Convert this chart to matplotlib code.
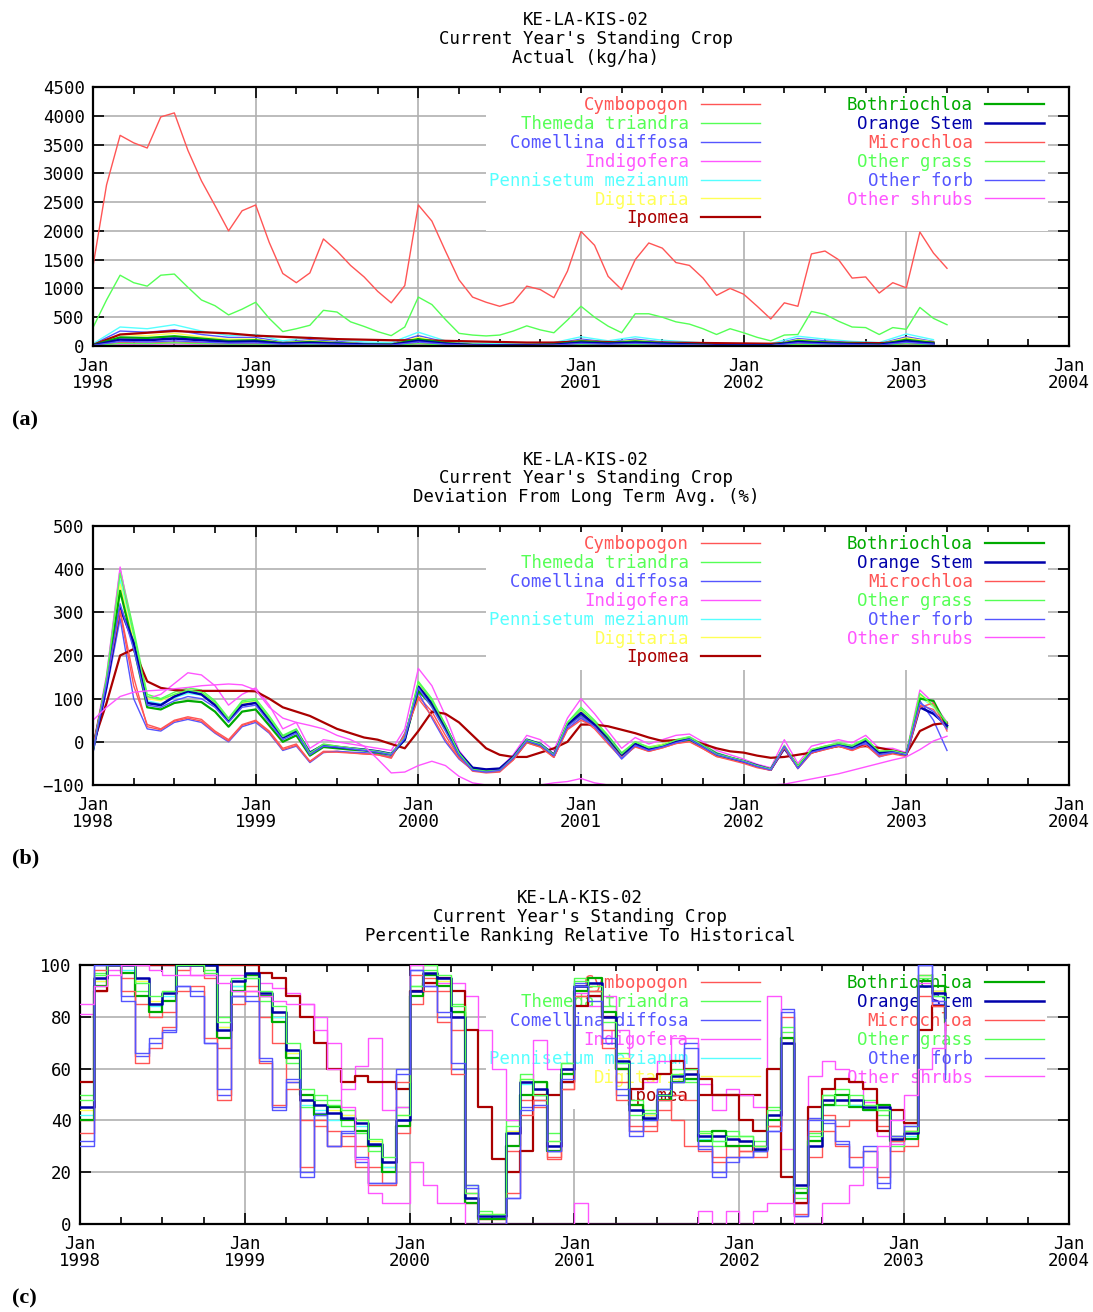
import numpy as np
import matplotlib.pyplot as plt
from matplotlib.ticker import MultipleLocator

plt.rcParams['font.family'] = ['DejaVu Sans Mono']

species = ["Cymbopogon", "Themeda triandra", "Comellina diffosa", "Indigofera",
           "Pennisetum mezianum", "Digitaria", "Ipomea",
           "Bothriochloa", "Orange Stem", "Microchloa", "Other grass",
           "Other forb", "Other shrubs"]
colors = ["#ff5555", "#55ff55", "#5555ff", "#ff55ff", "#55ffff", "#ffff55", "#aa0000",
          "#00aa00", "#0000aa", "#ff5555", "#55ff55", "#5555ff", "#ff55ff"]
widths = [1.0, 1.0, 1.0, 1.0, 1.0, 1.0, 1.6, 1.6, 1.8, 1.0, 1.0, 1.0, 1.0]

# time axis: monthly Jan 1998 .. Apr 2003, and every 2 months for the small (a) series
months = np.arange(64)
months2 = np.arange(0, 64, 2)

# -------- (a) Actual (kg/ha) --------
a_cymbopogon = [1385, 2800, 3660, 3530, 3440, 3980, 4050, 3400, 2870, 2440, 2000, 2350,
                2450, 1800, 1260, 1100, 1270, 1860, 1650, 1400, 1200, 950, 750, 1050,
                2450, 2170, 1650, 1150, 850, 760, 690, 760, 1040, 980, 840, 1300,
                1990, 1750, 1210, 980, 1500, 1790, 1700, 1450, 1400, 1180, 880, 1000,
                900, 690, 470, 750, 690, 1600, 1650, 1500, 1180, 1200, 920, 1100,
                1010, 1980, 1615, 1350]
a_themeda = [320, 800, 1230, 1100, 1040, 1230, 1250, 1020, 800, 700, 540, 640,
             760, 480, 250, 300, 360, 620, 590, 420, 340, 250, 180, 330,
             850, 720, 460, 220, 190, 175, 190, 260, 350, 280, 230, 450,
             690, 500, 345, 230, 560, 560, 500, 420, 380, 300, 200, 300,
             230, 150, 90, 190, 200, 600, 550, 430, 330, 320, 200, 320,
             290, 670, 480, 370]
a_comellina = [30, 260, 240, 280, 200, 150, 150, 70, 110, 80, 50, 40, 180, 70, 30, 25,
               25, 40, 120, 70, 120, 70, 50, 25, 25, 20, 130, 90, 60, 40, 160, 80]
a_indigofera = [5, 30, 30, 40, 30, 25, 25, 15, 20, 15, 10, 8, 30, 15, 5, 5,
                5, 8, 20, 15, 20, 15, 10, 5, 5, 4, 25, 15, 10, 8, 30, 15]
a_pennisetum = [40, 330, 300, 370, 260, 180, 200, 90, 150, 110, 70, 60, 240, 90, 50, 40,
                40, 60, 160, 90, 160, 100, 70, 40, 40, 40, 170, 120, 80, 60, 210, 110]
a_digitaria = [20, 200, 180, 220, 160, 120, 120, 60, 90, 60, 40, 30, 150, 60, 25, 20,
               20, 30, 100, 60, 100, 60, 40, 20, 20, 15, 110, 70, 50, 30, 140, 70]
a_ipomea = [20, 200, 230, 260, 240, 220, 180, 160, 140, 120, 110, 100, 100, 90, 80, 70,
            60, 60, 80, 70, 60, 60, 55, 50, 45, 40, 60, 60, 55, 50, 70, 60]
a_bothriochloa = [15, 150, 140, 170, 130, 90, 100, 50, 70, 50, 30, 25, 120, 50, 20, 15,
                  15, 25, 80, 50, 80, 50, 30, 15, 15, 12, 90, 60, 40, 25, 110, 55]
a_orange = [10, 110, 100, 130, 100, 70, 80, 40, 55, 40, 25, 20, 90, 40, 15, 12,
            12, 20, 60, 40, 60, 40, 25, 12, 12, 10, 70, 45, 30, 20, 85, 40]
a_microchloa = [5, 60, 50, 70, 55, 40, 40, 20, 30, 20, 15, 10, 50, 20, 8, 6,
                6, 10, 35, 20, 35, 20, 15, 6, 6, 5, 40, 25, 15, 10, 50, 25]
a_other_grass = [5, 45, 40, 55, 40, 30, 30, 15, 25, 15, 10, 8, 40, 15, 6, 5,
                 5, 8, 25, 15, 25, 15, 10, 5, 5, 4, 30, 20, 12, 8, 40, 20]
a_other_forb = [10, 80, 70, 90, 70, 50, 55, 30, 40, 30, 20, 15, 70, 30, 12, 10,
                10, 15, 45, 30, 45, 30, 20, 10, 10, 8, 55, 35, 25, 15, 65, 30]
a_other_shrubs = [2, 8, 10, 12, 10, 8, 8, 5, 5, 4, 3, 3, 3, 2, 2, 2,
                  2, 2, 2, 2, 2, 2, 2, 2, 2, 2, 3, 3, 3, 4, 5, 5]

# -------- (b) Deviation from long term avg (%) --------
b_cymbopogon = [-15, 130, 300, 130, 40, 30, 50, 58, 52, 25, 5, 40, 50, 25, -15, -5,
                -45, -22, -22, -25, -28, -30, -38, 15, 105, 70, 15, -35, -68, -72, -70, -42,
                -2, -12, -36, 30, 55, 30, -5, -38, -10, -22, -14, -4, 2, -16, -34, -40,
                -48, -58, -66, -12, -62, -26, -18, -10, -20, -5, -32, -26, -32, 85, 75, 30]
b_themeda = [-20, 150, 400, 260, 110, 100, 115, 125, 120, 95, 55, 95, 100, 60, 15, 30,
             -25, -5, -10, -15, -18, -22, -28, 10, 140, 100, 40, -25, -62, -66, -64, -38,
             5, -5, -30, 45, 80, 50, 15, -25, 0, -12, -6, 5, 12, -6, -25, -35,
             -44, -55, -62, -10, -55, -18, -10, -2, -8, 8, -22, -20, -28, 110, 85, 45]
b_comellina = [-25, 120, 285, 100, 30, 25, 45, 52, 45, 20, 0, 35, 45, 20, -20, -10,
               -48, -25, -22, -24, -25, -28, -35, 20, 115, 55, 0, -40, -65, -70, -68, -40,
               0, -10, -35, 30, 55, 35, 0, -40, -10, -20, -12, -2, 4, -14, -32, -40,
               -48, -58, -66, -8, -60, -24, -15, -8, -18, -5, -35, -25, -32, 95, 50, -20]
b_indigofera = [-10, 155, 405, 240, 100, 110, 135, 160, 155, 130, 85, 110, 125, 85, 30, 45,
                -15, 5, 0, -5, -10, -15, -20, 30, 170, 130, 60, -20, -60, -64, -62, -30,
                15, 5, -20, 55, 100, 65, 25, -15, 10, -5, 5, 15, 18, 0, -20, -30,
                -40, -52, -60, 5, -50, -10, -2, 5, -2, 15, -15, -15, -25, 120, 90, 45]
b_pennisetum = [-20, 145, 375, 240, 95, 88, 102, 112, 108, 85, 48, 85, 90, 50, 8, 22,
                -28, -8, -12, -16, -20, -24, -30, 6, 130, 88, 30, -28, -64, -68, -66, -38,
                4, -6, -30, 40, 70, 42, 8, -32, -4, -16, -8, 2, 10, -8, -28, -36,
                -45, -56, -64, -8, -58, -20, -12, -4, -10, 4, -24, -22, -28, 105, 80, 40]
b_digitaria = [-20, 145, 365, 235, 100, 95, 110, 120, 115, 90, 52, 90, 95, 55, 10, 25,
               -26, -6, -10, -14, -18, -22, -28, 8, 135, 92, 35, -26, -62, -66, -64, -36,
               5, -5, -30, 42, 72, 45, 10, -30, -2, -14, -6, 4, 10, -8, -28, -36,
               -44, -55, -63, -8, -56, -18, -10, -4, -10, 5, -22, -20, -28, 108, 82, 42]
b_ipomea = [-5, 90, 200, 215, 140, 125, 120, 118, 118, 118, 118, 118, 117, 100, 80, 70,
            60, 45, 30, 20, 10, 5, -5, -15, 25, 70, 65, 45, 15, -15, -30, -35,
            -35, -25, -15, 0, 40, 40, 36, 28, 20, 10, 2, 4, 5, -5, -15, -22,
            -25, -32, -37, -35, -30, -25, -15, -10, -12, -10, -14, -20, -28, 25, 40, 44]
b_bothriochloa = [-15, 140, 350, 220, 80, 75, 90, 95, 92, 70, 35, 70, 75, 38, 0, 15,
                  -32, -12, -15, -18, -20, -25, -30, 5, 118, 85, 30, -30, -62, -66, -64, -38,
                  0, -8, -32, 38, 62, 38, 6, -32, -5, -18, -10, 0, 5, -10, -30, -38,
                  -45, -56, -64, -12, -58, -20, -12, -6, -14, 2, -25, -24, -30, 100, 95, 35]
b_orange = [-18, 130, 310, 230, 90, 85, 105, 117, 110, 85, 50, 85, 90, 50, 10, 25,
            -25, -8, -12, -15, -18, -22, -28, 5, 128, 90, 35, -25, -60, -64, -62, -35,
            5, -5, -30, 40, 67, 40, 10, -30, -5, -18, -10, 0, 8, -10, -28, -37,
            -45, -55, -64, -15, -58, -22, -15, -6, -12, 2, -25, -22, -29, 80, 65, 38]
b_microchloa = [-10, 140, 305, 150, 35, 28, 48, 55, 48, 22, 2, 38, 48, 22, -18, -8,
                -46, -24, -24, -26, -28, -30, -36, 18, 100, 60, 5, -38, -66, -70, -68, -42,
                -2, -12, -36, 28, 50, 35, 0, -36, -12, -22, -14, -4, 0, -16, -34, -42,
                -50, -60, -66, -14, -62, -26, -18, -10, -20, -8, -34, -28, -34, 80, 90, 25]
b_other_grass = [-22, 148, 390, 250, 105, 98, 110, 120, 115, 92, 52, 92, 96, 56, 12, 28,
                 -26, -6, -10, -14, -18, -22, -28, 10, 138, 95, 38, -26, -64, -68, -66, -36,
                 5, -5, -30, 44, 75, 46, 12, -28, 0, -14, -8, 4, 10, -8, -28, -36,
                 -44, -55, -63, -10, -56, -18, -10, -4, -10, 6, -22, -20, -28, 112, 84, 44]
b_other_forb = [-20, 135, 320, 215, 85, 80, 95, 105, 100, 80, 45, 80, 85, 45, 5, 20,
                -30, -10, -12, -16, -20, -24, -30, 8, 125, 80, 25, -32, -66, -70, -66, -38,
                2, -8, -32, 35, 60, 35, 0, -38, -8, -20, -12, -2, 6, -12, -30, -38,
                -46, -57, -65, -10, -62, -24, -16, -8, -16, -2, -30, -24, -30, 90, 70, 30]
b_other_shrubs = [50, 80, 105, 115, 118, 120, 123, 126, 130, 132, 134, 132, 120, 80, 55, 45,
                  38, 30, 15, 5, -10, -40, -72, -70, -55, -45, -55, -80, -95, -100, -100, -100,
                  -100, -100, -95, -92, -85, -95, -100, -100, -100, -100, -100, -100, -100, -100, -100, -100,
                  -100, -100, -100, -98, -92, -86, -80, -74, -66, -58, -50, -42, -35, -18, 2, 13]

# -------- (c) Percentile ranking --------
c_cymbopogon = [40, 90, 100, 95, 85, 80, 82, 98, 100, 95, 68, 88, 92, 80, 70, 55,
                40, 38, 36, 30, 30, 22, 16, 35, 85, 95, 90, 75, 8, 2, 2, 28,
                48, 45, 25, 52, 88, 90, 75, 55, 38, 36, 44, 50, 48, 28, 26, 30,
                28, 26, 38, 70, 8, 26, 42, 38, 40, 40, 38, 28, 30, 88, 90, 75]
c_themeda = [50, 97, 100, 100, 90, 85, 89, 100, 100, 98, 80, 92, 95, 86, 80, 62,
             45, 50, 48, 38, 35, 28, 22, 45, 92, 100, 95, 85, 15, 5, 3, 40,
             58, 55, 35, 62, 95, 90, 84, 66, 48, 44, 52, 60, 55, 36, 30, 36,
             34, 32, 45, 74, 10, 35, 50, 52, 46, 48, 42, 30, 38, 95, 90, 82]
c_comellina = [30, 100, 100, 88, 65, 70, 75, 92, 90, 70, 50, 88, 88, 63, 45, 55,
               20, 43, 30, 35, 24, 16, 16, 60, 98, 92, 80, 60, 15, 0, 0, 10,
               45, 48, 28, 55, 93, 88, 70, 50, 34, 42, 52, 55, 70, 29, 18, 24,
               26, 28, 36, 83, 3, 41, 39, 31, 22, 30, 14, 34, 39, 100, 85, 58]
c_indigofera = [81, 95, 98, 100, 100, 100, 100, 100, 96, 96, 96, 96, 96, 93, 91, 89,
                85, 80, 70, 52, 61, 72, 44, 45, 100, 93, 93, 93, 88, 75, 60, 40,
                55, 71, 60, 60, 89, 84, 88, 75, 52, 55, 63, 72, 72, 54, 44, 52,
                50, 45, 88, 29, 8, 57, 63, 60, 55, 47, 34, 31, 39, 93, 86, 74]
c_pennisetum = [42, 94, 100, 98, 94, 84, 88, 100, 100, 100, 76, 92, 96, 88, 80, 66,
                46, 44, 40, 42, 38, 30, 22, 40, 90, 96, 94, 82, 10, 3, 3, 36,
                54, 50, 30, 58, 92, 93, 80, 62, 44, 42, 48, 56, 56, 33, 32, 34,
                32, 30, 42, 70, 12, 30, 46, 48, 46, 44, 44, 32, 34, 92, 88, 78]
c_digitaria = [44, 94, 100, 100, 94, 86, 90, 100, 100, 100, 76, 94, 96, 88, 82, 66,
               48, 46, 44, 42, 40, 32, 24, 42, 90, 97, 94, 82, 10, 4, 4, 36,
               56, 52, 32, 60, 92, 92, 80, 64, 46, 42, 50, 56, 58, 35, 34, 34,
               32, 30, 42, 72, 14, 32, 48, 48, 48, 46, 44, 34, 36, 92, 90, 80]
c_ipomea = [55, 90, 100, 100, 100, 100, 100, 100, 100, 100, 100, 100, 100, 97, 95, 88,
            80, 70, 60, 55, 57, 55, 55, 52, 90, 93, 95, 90, 75, 45, 25, 20,
            28, 50, 50, 55, 84, 88, 80, 60, 52, 56, 58, 63, 60, 56, 50, 50,
            40, 36, 60, 18, 8, 45, 52, 56, 55, 52, 36, 44, 39, 75, 84, 80]
c_bothriochloa = [40, 92, 100, 97, 88, 82, 86, 100, 100, 100, 72, 90, 96, 88, 78, 64,
                  50, 42, 45, 40, 36, 30, 20, 38, 88, 96, 92, 82, 8, 2, 2, 30,
                  50, 55, 28, 58, 90, 95, 82, 60, 46, 40, 48, 55, 56, 32, 36, 30,
                  30, 28, 40, 72, 12, 32, 46, 50, 45, 44, 46, 32, 33, 94, 92, 78]
c_orange = [45, 95, 100, 100, 95, 85, 89, 100, 100, 100, 75, 94, 97, 89, 82, 67,
            48, 46, 43, 41, 39, 31, 24, 40, 90, 97, 95, 80, 10, 3, 3, 35,
            55, 52, 30, 60, 92, 93, 80, 63, 44, 41, 50, 57, 58, 34, 34, 33,
            32, 29, 42, 70, 15, 30, 48, 48, 48, 45, 45, 33, 35, 92, 89, 80]
c_microchloa = [35, 98, 100, 90, 62, 68, 76, 90, 92, 72, 48, 85, 90, 62, 46, 52,
                22, 40, 30, 34, 22, 15, 15, 55, 96, 90, 78, 58, 12, 0, 0, 12,
                42, 48, 26, 52, 88, 90, 68, 48, 36, 38, 48, 40, 30, 30, 24, 26,
                28, 30, 38, 80, 4, 36, 36, 30, 26, 28, 18, 32, 36, 96, 84, 60]
c_other_grass = [48, 96, 100, 100, 93, 88, 90, 100, 100, 97, 78, 95, 95, 90, 84, 70,
                 52, 48, 46, 44, 40, 33, 26, 42, 92, 98, 96, 84, 12, 4, 4, 38,
                 56, 50, 32, 62, 94, 92, 78, 62, 42, 43, 50, 58, 60, 35, 32, 34,
                 34, 30, 44, 76, 14, 34, 50, 46, 50, 46, 44, 34, 36, 96, 88, 80]
c_other_forb = [32, 100, 100, 86, 66, 72, 74, 92, 88, 70, 52, 88, 86, 64, 44, 56,
                18, 42, 30, 36, 26, 16, 16, 58, 98, 92, 82, 62, 14, 0, 0, 10,
                44, 46, 28, 56, 92, 86, 72, 52, 36, 40, 52, 55, 68, 30, 20, 26,
                26, 28, 36, 82, 3, 40, 40, 32, 22, 28, 16, 34, 38, 100, 86, 56]
c_other_shrubs = [85, 92, 96, 100, 100, 98, 96, 96, 96, 96, 93, 90, 90, 88, 86, 85,
                  85, 75, 60, 45, 25, 12, 8, 8, 24, 15, 8, 8, 0, 0, 0, 0,
                  0, 0, 0, 0, 8, 0, 0, 0, 0, 0, 0, 0, 0, 5, 0, 5,
                  0, 5, 8, 8, 0, 0, 8, 8, 15, 22, 30, 40, 50, 60, 68, 78]

panel_a_small = [a_comellina, a_indigofera, a_pennisetum, a_digitaria, a_ipomea,
                 a_bothriochloa, a_orange, a_microchloa, a_other_grass, a_other_forb, a_other_shrubs]
panel_b = [b_cymbopogon, b_themeda, b_comellina, b_indigofera, b_pennisetum, b_digitaria, b_ipomea,
           b_bothriochloa, b_orange, b_microchloa, b_other_grass, b_other_forb, b_other_shrubs]
panel_c = [c_cymbopogon, c_themeda, c_comellina, c_indigofera, c_pennisetum, c_digitaria, c_ipomea,
           c_bothriochloa, c_orange, c_microchloa, c_other_grass, c_other_forb, c_other_shrubs]

years = list(range(1998, 2005))
year_labels = ["Jan\n%d" % y for y in years]

W, H = 1093, 1312
fig = plt.figure(figsize=(W / 100, H / 100), dpi=100)
FS = 12.5


def px_axes(left, right, top, bottom):
    return fig.add_axes([left / W, 1 - bottom / H, (right - left) / W, (bottom - top) / H])


def style(ax, ymin, ymax, ystep):
    ax.set_xlim(1998, 2004)
    ax.set_ylim(ymin, ymax)
    ax.set_xticks(years)
    ax.set_xticklabels(year_labels, linespacing=0.95)
    ax.xaxis.set_minor_locator(MultipleLocator(0.25))
    ax.yaxis.set_major_locator(MultipleLocator(ystep))
    ax.grid(True, which='major', color='#b0b0b0', lw=1.2)
    ax.set_axisbelow(True)
    ax.tick_params(which='both', direction='in', top=True, right=True, labelsize=FS,
                   width=1.2, pad=6)
    ax.tick_params(axis='x', which='major', pad=8)
    ax.tick_params(which='major', length=8)
    ax.tick_params(which='minor', length=5)
    for s in ax.spines.values():
        s.set_linewidth(1.6)


def legend(ax, z):
    leg = ax.legend(ncol=2, markerfirst=False, labelcolor='linecolor', loc='upper right',
                    bbox_to_anchor=(0.978, 0.978), frameon=True, framealpha=1, edgecolor='none',
                    fancybox=False, fontsize=FS, handlelength=3.4, handletextpad=0.7,
                    columnspacing=5.0, labelspacing=0.05, borderpad=0.2, borderaxespad=0)
    leg.set_zorder(z)


def titles(lines, ys, xc):
    for txt, y in zip(lines, ys):
        fig.text(xc / W, 1 - y / H, txt, ha='center', va='center', fontsize=FS)


# -------- (a) --------
ax = px_axes(93, 1069, 87, 346)
ta = 1998 + months / 12
ts = 1998 + months2 / 12
ax.plot(ta, a_cymbopogon, color=colors[0], lw=widths[0], label=species[0])
ax.plot(ta, a_themeda, color=colors[1], lw=widths[1], label=species[1])
for i, vals in enumerate(panel_a_small, start=2):
    ax.plot(ts, vals, color=colors[i], lw=widths[i], label=species[i])
style(ax, 0, 4500, 500)
legend(ax, 5)
titles(["KE-LA-KIS-02", "Current Year's Standing Crop", "Actual (kg/ha)"], [20, 39, 58], 586)

# -------- (b) --------
ax = px_axes(93, 1069, 526, 785)
for i, vals in enumerate(panel_b):
    ax.plot(ta, vals, color=colors[i], lw=widths[i], label=species[i])
style(ax, -100, 500, 100)
legend(ax, 5)
titles(["KE-LA-KIS-02", "Current Year's Standing Crop",
        "Deviation From Long Term Avg. (%)"], [460, 478, 497], 586)

# -------- (c) --------
ax = px_axes(80, 1069, 965, 1224)
for i, vals in enumerate(panel_c):
    ax.step(ta, vals, where='post', color=colors[i], lw=widths[i], label=species[i], zorder=3)
style(ax, 0, 100, 20)
legend(ax, 2)
titles(["KE-LA-KIS-02", "Current Year's Standing Crop",
        "Percentile Ranking Relative To Historical"], [898, 917, 936], 580)

for lab, y in [("(a)", 420), ("(b)", 858), ("(c)", 1298)]:
    fig.text(12 / W, 1 - y / H, lab, fontsize=16, fontweight='bold',
             family=['Liberation Serif'], va='center', ha='left')

fig.savefig("out.png", dpi=100)
